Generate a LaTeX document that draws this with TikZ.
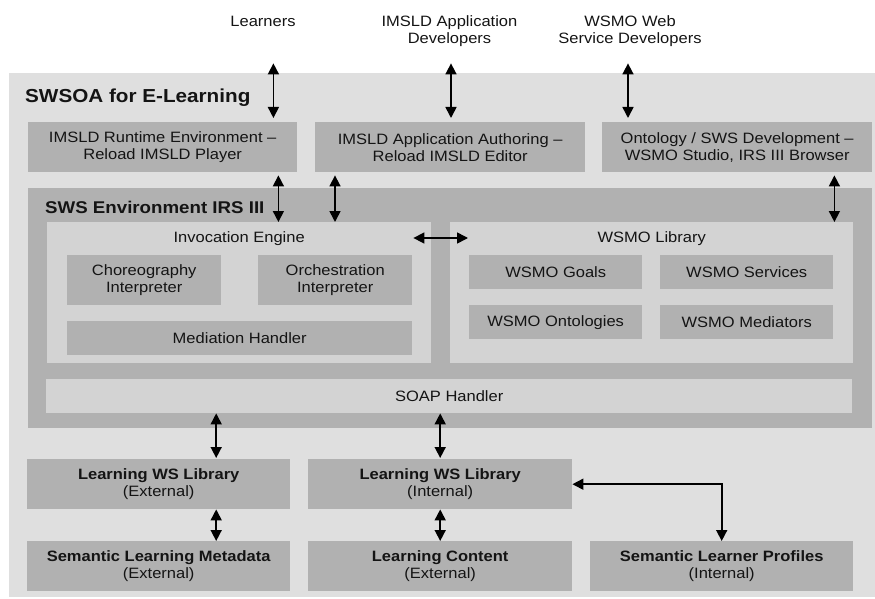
\documentclass[tikz,border=0pt]{standalone}
\usepackage{fontspec}
\setmainfont{Liberation Sans}[FakeStretch=1.1]
\usetikzlibrary{arrows.meta}
\definecolor{outergray}{HTML}{DFDFDF}
\definecolor{boxgray}{HTML}{B1B1B1}
\definecolor{panegray}{HTML}{D3D3D3}
\definecolor{inkgray}{HTML}{141414}
\newcommand{\bodyfont}{\fontsize{15}{17}\selectfont}
\newcommand{\titlefont}{\bfseries\fontsize{18.8}{21}\selectfont}
\newcommand{\subtitlefont}{\bfseries\fontsize{17}{19}\selectfont}
\tikzset{
  dims/.style 2 args={minimum width=#1pt, minimum height=#2pt},
  box/.style={fill=boxgray, inner sep=0pt, align=center, font=\bodyfont,
    text=inkgray, anchor=north west},
  pane/.style={fill=panegray, inner sep=0pt, align=center, font=\bodyfont,
    text=inkgray, anchor=north west},
  lbl/.style={inner sep=0pt, align=center, font=\bodyfont, text=inkgray},
  dbl/.style={{Triangle[length=11pt,width=11pt]}-{Triangle[length=11pt,width=11pt]},
    line width=1.6pt, draw=black},
}

\begin{document}
\begin{tikzpicture}[x=1pt,y=-1pt]
\useasboundingbox (0,0) rectangle (875,599);

% Outer frame
\node[box, fill=outergray, dims={866}{524}] (swsoa) at (9,73) {};
\node[anchor=base west, inner sep=0pt, font=\titlefont, text=inkgray] (swsoatitle) at (25,103) {SWSOA for E-Learning};

% Actors
\node[lbl, anchor=north] (learners) at (263,15.5) {Learners};
\node[lbl, anchor=north] (imsdev) at (449.5,15.5) {IMSLD Application\\Developers};
\node[lbl, anchor=north] (wsmodev) at (630,15.5) {WSMO Web\\Service Developers};

% Tools
\node[box, dims={269}{50}] (rte) at (28,122) {IMSLD Runtime Environment --\\Reload IMSLD Player};
\node[box, dims={270}{50}] (author) at (315,122) {IMSLD Application Authoring --\\Reload IMSLD Editor};
\node[box, dims={270}{50}] (onto) at (602,122) {Ontology / SWS Development --\\WSMO Studio, IRS III Browser};

% SWS environment
\node[box, dims={844}{240}] (env) at (28,188) {};
\node[anchor=base west, inner sep=0pt, font=\subtitlefont, text=inkgray] (envtitle) at (45,213) {SWS Environment IRS III};

\node[pane, dims={384}{141}] (inv) at (47,222) {};
\node[lbl, anchor=base] (invtitle) at ([yshift=-20pt]inv.north) {Invocation Engine};
\node[box, dims={154}{50}] (chor) at (67,255) {Choreography\\Interpreter};
\node[box, dims={154}{50}] (orch) at (258,255) {Orchestration\\Interpreter};
\node[box, dims={345}{34}] (med) at (67,321) {Mediation Handler};

\node[pane, dims={403}{141}] (lib) at (450,222) {};
\node[lbl, anchor=base] (libtitle) at ([yshift=-20pt]lib.north) {WSMO Library};
\node[box, dims={173}{34}] (goals) at (469,255) {WSMO Goals};
\node[box, dims={173}{34}] (serv) at (660,255) {WSMO Services};
\node[box, dims={173}{34}] (ontol) at (469,305) {WSMO Ontologies};
\node[box, dims={173}{34}] (medi) at (660,305) {WSMO Mediators};

\node[pane, dims={806}{34}] (soap) at (46,379) {SOAP Handler};

% Learning resources
\node[box, dims={263}{50}] (lwsext) at (27,459) {\textbf{Learning WS Library}\\(External)};
\node[box, dims={264}{50}] (lwsint) at (308,459) {\textbf{Learning WS Library}\\(Internal)};
\node[box, dims={263}{50}] (slm) at (27,541) {\textbf{Semantic Learning Metadata}\\(External)};
\node[box, dims={264}{50}] (lc) at (308,541) {\textbf{Learning Content}\\(External)};
\node[box, dims={263}{50}] (slp) at (590,541) {\textbf{Semantic Learner Profiles}\\(Internal)};

% Arrows
\draw[dbl, shorten <=37pt] ([xshift=-24pt]rte.north east |- learners.south) -- ([xshift=-24pt,yshift=4pt]rte.north east);
\draw[dbl, shorten <=16.5pt] ([xshift=136pt]author.north west |- imsdev.south) -- ([xshift=136pt,yshift=4pt]author.north west);
\draw[dbl, shorten <=16.5pt] ([xshift=26pt]onto.north west |- wsmodev.south) -- ([xshift=26pt,yshift=4pt]onto.north west);

\draw[dbl] ([xshift=-19pt,yshift=-3pt]rte.south east) -- ([xshift=-19pt]rte.south east |- inv.north);
\draw[dbl] ([xshift=20pt,yshift=-3pt]author.south west) -- ([xshift=20pt]author.south west |- inv.north);
\draw[dbl] ([xshift=-38pt,yshift=-3pt]onto.south east) -- ([xshift=-38pt]onto.south east |- lib.north);
\draw[dbl] ([xshift=-18pt,yshift=-16pt]inv.north east) -- ([xshift=18pt,yshift=-16pt]lib.north west);

\draw[dbl] ([xshift=57.5pt]lwsext.north |- soap.south) -- ([xshift=57.5pt,yshift=1pt]lwsext.north);
\draw[dbl] (lwsint.north |- soap.south) -- ([yshift=1pt]lwsint.north);
\draw[dbl] ([xshift=57.5pt]lwsext.south) -- ([xshift=57.5pt]slm.north);
\draw[dbl] (lwsint.south) -- (lc.north);
\draw[dbl] (lwsint.east) -| (slp.north);
\end{tikzpicture}
\end{document}
